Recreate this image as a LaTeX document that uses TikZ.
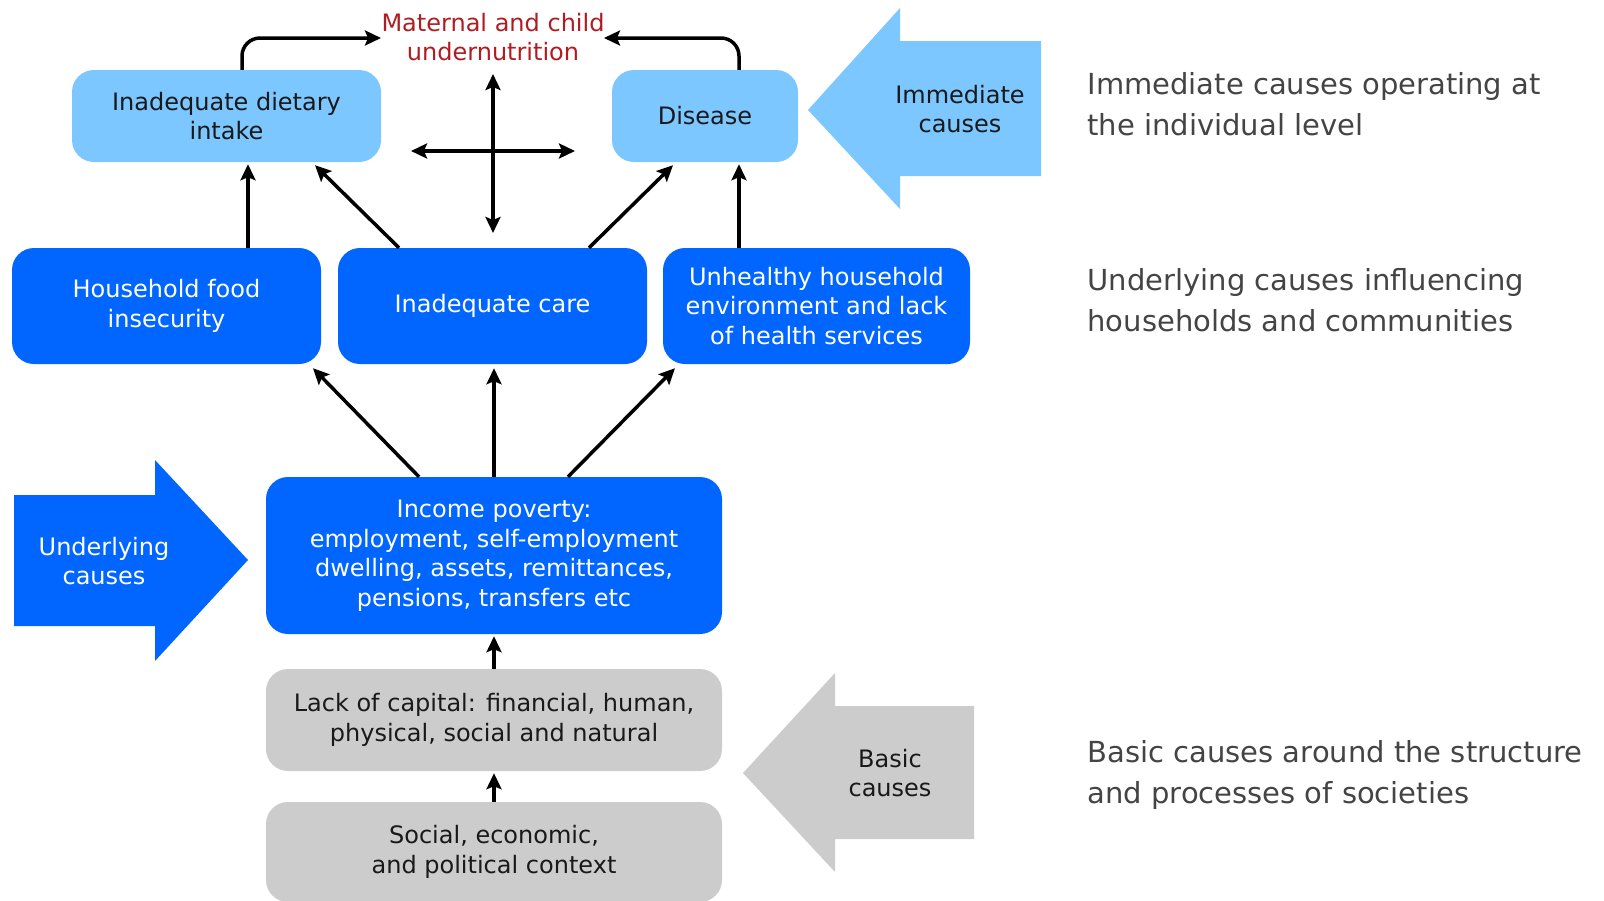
\documentclass[tikz,border=0pt]{standalone}
\usepackage{fontspec}
\setmainfont{DejaVu Sans}
\usetikzlibrary{arrows.meta}
\definecolor{lblue}{RGB}{124,199,255}
\definecolor{dblue}{RGB}{0,102,255}
\definecolor{lgray}{RGB}{204,204,204}
\definecolor{mred}{RGB}{176,28,34}
\definecolor{rtext}{RGB}{68,68,68}
\definecolor{btext}{RGB}{25,25,25}
\tikzset{
  boxbase/.style={rectangle, rounded corners=22pt, inner sep=0pt, align=center,
    font=\fontsize{24}{29.5}\selectfont},
  lbox/.style={boxbase, fill=lblue, text=btext},
  dbox/.style={boxbase, fill=dblue, text=white},
  gbox/.style={boxbase, fill=lgray, text=btext},
  tip/.style={Stealth[length=16pt,width=15pt,inset=3pt]},
  conn/.style={line width=3.5pt, -{Stealth[length=16pt,width=15pt,inset=3pt]}},
  dconn/.style={line width=3.5pt, {Stealth[length=16pt,width=15pt,inset=3pt]}-{Stealth[length=16pt,width=15pt,inset=3pt]}},
  sidetext/.style={anchor=west, align=left, text=rtext, font=\fontsize{29}{41}\selectfont},
  arrtext/.style={align=center, font=\fontsize{24}{29.5}\selectfont}
}
\begin{document}
\begin{tikzpicture}[x=1pt,y=-1pt]
\useasboundingbox (0,0) rectangle (1604,900);
\begin{scope}
\clip (0,0) rectangle (1604,900);
% big block arrows
\fill[lblue] (808,110) -- (900,8) -- (900,41) -- (1041,41) -- (1041,176) -- (900,176) -- (900,209) -- cycle;
\fill[dblue] (248,560) -- (155,460) -- (155,495) -- (14,495) -- (14,626) -- (155,626) -- (155,661) -- cycle;
\fill[lgray] (743,773) -- (835,673) -- (835,706) -- (974,706) -- (974,839) -- (835,839) -- (835,872) -- cycle;
\node[arrtext, text=btext] (imm) at (960,109) {Immediate\\causes};
\node[arrtext, text=white] (und) at (104,561) {Underlying\\causes};
\node[arrtext, text=btext] (bas) at (890,773) {Basic\\causes};

% boxes
\node[lbox, minimum width=309pt, minimum height=92pt] (diet) at (226.5,116) {Inadequate dietary\\intake};
\node[lbox, minimum width=186pt, minimum height=92pt] (dis) at (705,116) {Disease};
\node[dbox, minimum width=309pt, minimum height=116pt] (hf) at (166.5,306) {Household food\\insecurity};
\node[dbox, minimum width=309pt, minimum height=116pt] (care) at (492.5,306) {Inadequate care};
\node[dbox, minimum width=307pt, minimum height=116pt] (unh) at (816.5,306) {Unhealthy household\\environment and lack\\of health services};
\node[dbox, minimum width=456pt, minimum height=157pt] (inc) at (494,555.5) {Income poverty:\\employment, self-employment\\dwelling, assets, remittances,\\pensions, transfers etc};
\node[gbox, minimum width=456pt, minimum height=102pt] (lack) at (494,720) {Lack of capital: financial, human,\\physical, social and natural};
\node[gbox, minimum width=456pt, minimum height=100pt] (soc) at (494,852) {Social, economic,\\and political context};

% outcome
\node[align=center, text=mred, font=\fontsize{24}{28.6}\selectfont] (mcu) at (493,37) {Maternal and child\\undernutrition};
\coordinate (mL) at (381,38);
\coordinate (mR) at (604,38);

% connectors
\draw[conn, rounded corners=18pt] ([xshift=15.5pt]diet.north) |- (mL);
\draw[conn, rounded corners=18pt] ([xshift=34pt]dis.north) |- (mR);
\coordinate (vT) at (493,74);
\coordinate (vB) at (493,233);
\coordinate (hL) at (411,151);
\coordinate (hR) at (575,151);
\draw[dconn] (vT) -- (vB);
\draw[dconn] (hL) -- (hR);

\draw[conn] ([xshift=81.5pt]hf.north) -- ([xshift=81.5pt,yshift=-2pt]hf.north |- diet.south);
\draw[conn] ([xshift=-93.5pt]care.north) -- ([xshift=88.5pt,yshift=-3pt]diet.south);
\draw[conn] ([xshift=96.5pt]care.north) -- ([xshift=-32pt,yshift=-3pt]dis.south);
\draw[conn] ([xshift=-77.5pt]unh.north) -- ([xshift=-77.5pt,yshift=-2pt]unh.north |- dis.south);

\draw[conn] ([xshift=-75pt]inc.north) -- ([xshift=146.5pt,yshift=-4pt]hf.south);
\draw[conn] (inc.north) -- ([yshift=-4pt]inc.north |- care.south);
\draw[conn] ([xshift=74pt]inc.north) -- ([xshift=-141.5pt,yshift=-4pt]unh.south);
\draw[conn] (lack.north) -- ([yshift=-2pt]inc.south);
\draw[conn] (soc.north) -- ([yshift=-2pt]lack.south);

% side descriptions
\node[sidetext] (t1) at (1084,104.5) {Immediate causes operating at\\the individual level};
\node[sidetext] (t2) at (1084,300) {Underlying causes influencing\\households and communities};
\node[sidetext] (t3) at (1084,775) {Basic causes around the structure\\and processes of societies};
\end{scope}
\end{tikzpicture}
\end{document}
